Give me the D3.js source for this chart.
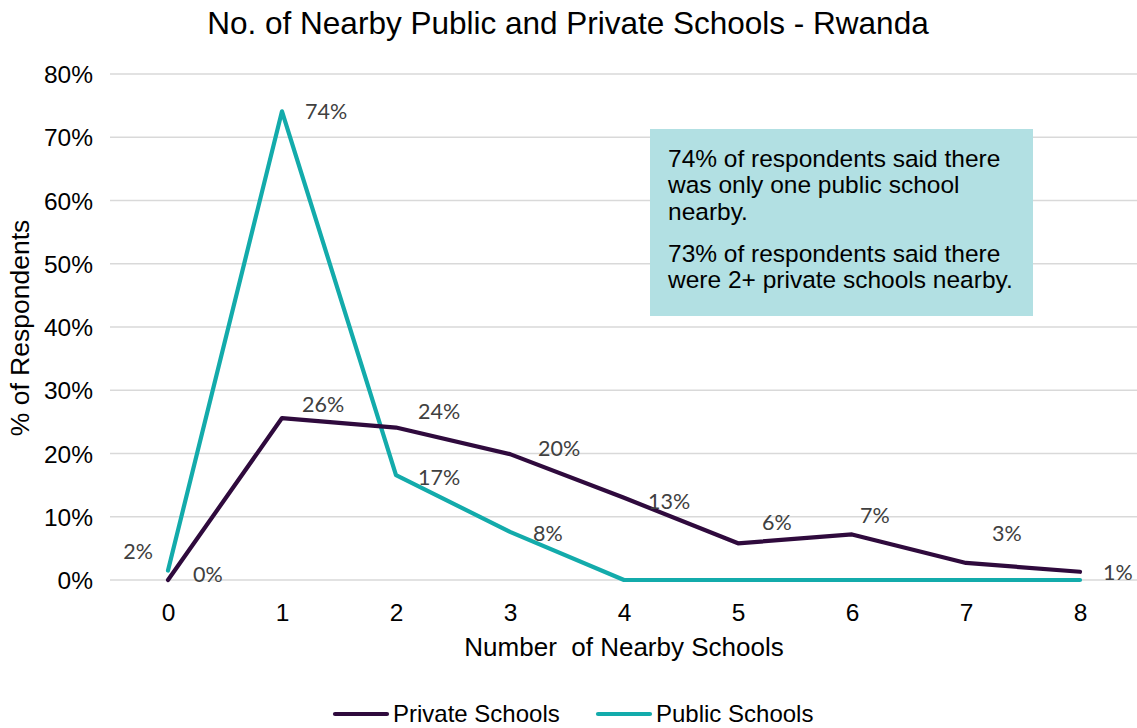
<!DOCTYPE html>
<html>
<head>
<meta charset="utf-8">
<script src="https://cdn.jsdelivr.net/npm/d3@7"></script>
<style>
  html, body { margin: 0; padding: 0; background: #fff; }
  svg { display: block; }
</style>
</head>
<body>
<svg id="chart" width="1137" height="728"></svg>
<script>
// Number of nearby schools (x categories)
const categories = ["0", "1", "2", "3", "4", "5", "6", "7", "8"];
// Share of respondents (%) per category
const privateSchools = [0.0, 25.6, 24.1, 19.9, 13.0, 5.8, 7.2, 2.7, 1.3];
const publicSchools = [1.5, 74.1, 16.6, 7.6, 0.0, 0.0, 0.0, 0.0, 0.0];
const yTicks = [0, 10, 20, 30, 40, 50, 60, 70, 80];
const seriesNames = ["Private Schools", "Public Schools"];
const titleText = "No. of Nearby Public and Private Schools - Rwanda";
const noteLines = [
  ["74% of respondents said there", "was only one public school", "nearby."],
  ["73% of respondents said there", "were 2+ private schools nearby."]
];

// Label nudges (dx, dy) so the value labels sit clear of the lines
const privateLabelOffsets = [[25, -6], [20, -14], [22, -16], [28, -6], [24, 4], [24, -21], [8, -19], [26, -29], [23, 1]];
const publicLabelOffsets = [[-15, -19], [23, 0], [22, 2], [23, 2], null, null, null, null, null];

const colors = { private: "#2f0a3d", public: "#13abab" };

const svg = d3.select("#chart");
const margin = { left: 111, right: 0, top: 74, bottom: 148 };
const W = 1137, H = 728;

const x = d3.scalePoint().domain(categories).range([margin.left, W - margin.right]).padding(0.5);
const y = d3.scaleLinear().domain([0, 80]).range([H - margin.bottom, margin.top]);

const axisFont = "'Liberation Sans', Arial, sans-serif";
const labelFont = "Lato, 'Open Sans', sans-serif";

// Title
svg.append("text")
  .attr("x", 568).attr("y", 34)
  .attr("text-anchor", "middle")
  .attr("font-family", axisFont).attr("font-size", 31.5)
  .attr("fill", "#000")
  .text(titleText);

// Horizontal gridlines
svg.append("g").selectAll("line").data(yTicks).join("line")
  .attr("x1", margin.left - 1).attr("x2", W)
  .attr("y1", d => y(d)).attr("y2", d => y(d))
  .attr("stroke", "#d9d9d9").attr("stroke-width", 1.3);

// Y axis labels
const yAxis = d3.axisLeft(y).tickValues(yTicks).tickSize(0).tickPadding(0).tickFormat(d => d + "%");
svg.append("g").attr("transform", `translate(93,0)`).call(yAxis)
  .call(g => g.select(".domain").remove())
  .selectAll("text")
  .attr("font-family", axisFont).attr("font-size", 24.5).attr("fill", "#000")
  .attr("dy", "0.35em");

// X axis labels
const xAxis = d3.axisBottom(x).tickSize(0).tickPadding(0);
svg.append("g").attr("transform", `translate(0,${y(0) + 32})`).call(xAxis)
  .call(g => g.select(".domain").remove())
  .selectAll("text")
  .attr("font-family", axisFont).attr("font-size", 24.5).attr("fill", "#000")
  .attr("dy", "0.35em");

// Axis titles
svg.append("text")
  .attr("x", 624).attr("y", 647).attr("dy", "0.35em")
  .attr("text-anchor", "middle")
  .attr("font-family", axisFont).attr("font-size", 26).attr("fill", "#000")
  .attr("xml:space", "preserve")
  .text("Number  of Nearby Schools");

svg.append("text")
  .attr("transform", "translate(20,328) rotate(-90)")
  .attr("dy", "0.35em")
  .attr("text-anchor", "middle")
  .attr("font-family", axisFont).attr("font-size", 26.5).attr("fill", "#000")
  .text("% of Respondents");

// Annotation box
const box = svg.append("g");
box.append("rect")
  .attr("x", 650).attr("y", 129).attr("width", 383).attr("height", 187)
  .attr("fill", "#b2e0e3");
let ty = 158;
noteLines.forEach((para, pi) => {
  para.forEach(line => {
    box.append("text")
      .attr("x", 668).attr("y", ty).attr("dy", "0.35em")
      .attr("font-family", axisFont).attr("font-size", 24.5).attr("fill", "#000")
      .text(line);
    ty += 26.5;
  });
  ty += 15.5;
});

// Lines
const line = d3.line().x((d, i) => x(categories[i])).y(d => y(d));
svg.append("path").datum(publicSchools)
  .attr("d", line).attr("fill", "none")
  .attr("stroke", colors.public).attr("stroke-width", 4.2)
  .attr("stroke-linejoin", "round").attr("stroke-linecap", "round");
svg.append("path").datum(privateSchools)
  .attr("d", line).attr("fill", "none")
  .attr("stroke", colors.private).attr("stroke-width", 4.2)
  .attr("stroke-linejoin", "round").attr("stroke-linecap", "round");

// Value labels
function addLabels(values, offsets) {
  svg.append("g").selectAll("text")
    .data(values.map((v, i) => ({ v, i, o: offsets[i] })).filter(d => d.o))
    .join("text")
    .attr("x", d => x(categories[d.i]) + d.o[0])
    .attr("y", d => y(d.v) + d.o[1])
    .attr("dy", "0.35em")
    .attr("text-anchor", d => d.o[0] < 0 ? "end" : "start")
    .attr("font-family", labelFont).attr("font-size", 21.5).attr("fill", "#404040")
    .text(d => Math.round(d.v) + "%");
}
addLabels(privateSchools, privateLabelOffsets);
addLabels(publicSchools, publicLabelOffsets);

// Legend
const legendItems = [
  { name: seriesNames[0], color: colors.private, x: 335 },
  { name: seriesNames[1], color: colors.public, x: 598 }
];
const lg = svg.append("g");
legendItems.forEach(it => {
  lg.append("line")
    .attr("x1", it.x).attr("x2", it.x + 52)
    .attr("y1", 714).attr("y2", 714)
    .attr("stroke", it.color).attr("stroke-width", 4.2).attr("stroke-linecap", "round");
  lg.append("text")
    .attr("x", it.x + 58).attr("y", 714).attr("dy", "0.35em")
    .attr("font-family", axisFont).attr("font-size", 24).attr("fill", "#000")
    .text(it.name);
});
</script>
</body>
</html>
